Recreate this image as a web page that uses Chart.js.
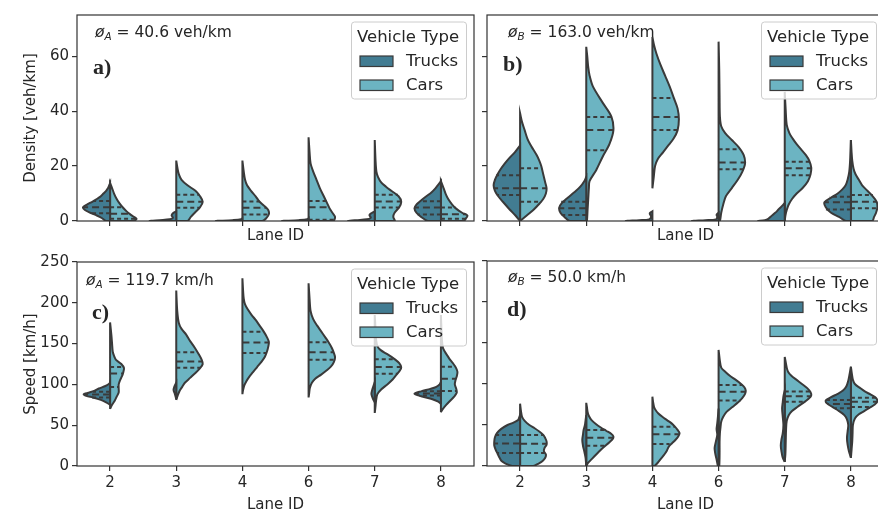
<!DOCTYPE html>
<html>
<head>
<meta charset="utf-8">
<script src="https://cdn.jsdelivr.net/npm/chart.js@4.4.1/dist/chart.umd.min.js"></script>
<style>
  html, body { margin: 0; padding: 0; background: #fff; }
  body { width: 878px; height: 514px; overflow: hidden; position: relative; }
  .panel { position: absolute; }
</style>
</head>
<body>
<div class="panel" style="left:0;top:0;width:480px;height:250px"><canvas id="panelA"></canvas></div>
<div class="panel" style="left:480px;top:0;width:420px;height:250px"><canvas id="panelB"></canvas></div>
<div class="panel" style="left:0;top:250px;width:480px;height:264px"><canvas id="panelC"></canvas></div>
<div class="panel" style="left:480px;top:250px;width:420px;height:264px"><canvas id="panelD"></canvas></div>
<script>
// categories and tick values
const lanes = ['2', '3', '4', '6', '7', '8'];
const densityTicks = [0, 20, 40, 60];
const speedTicks = [0, 50, 100, 150, 200, 250];
const vehicleTypes = ['Trucks', 'Cars'];
const legendTitle = 'Vehicle Type';
const panelTags = ['a)', 'b)', 'c)', 'd)'];
const noteSubs = ['A', 'B', 'A', 'B'];
const noteValues = ['40.6 veh/km', '163.0 veh/km', '119.7 km/h', '50.0 km/h'];

// violin outlines: [value, half width in lane units], bottom to top
const densityA_trucks = [
  [[0,0.06],[1,0.12],[2,0.2],[3,0.3],[4,0.38],[5,0.41],[6,0.35],[7,0.27],[8,0.2],[9,0.14],[10,0.1],[11,0.06],[12,0.03],[13.8,0]],
  [[0,0.4],[0.3,0.25],[0.6,0.1],[1.2,0.05],[2,0.07],[2.8,0.05],[3.5,0]],
  [[0,0.4],[0.3,0.15],[0.6,0.02],[1,0]],
  [[0,0.4],[0.3,0.15],[0.6,0.02],[1,0]],
  [[0,0.4],[0.3,0.28],[0.6,0.12],[1.2,0.06],[2.2,0.08],[3,0.04],[3.5,0]],
  [[0,0.2],[1.5,0.3],[3,0.37],[4.6,0.4],[6,0.37],[7.5,0.3],[9,0.22],[10.5,0.14],[12,0.08],[13.5,0.03],[14.5,0]]
];
const densityA_cars = [
  [[0,0.35],[0.8,0.4],[1.5,0.36],[2.5,0.3],[3.5,0.25],[5,0.19],[6.5,0.14],[8,0.1],[10,0.06],[12,0.03],[13.8,0]],
  [[0,0.17],[1.5,0.22],[3,0.28],[5,0.36],[7,0.4],[9,0.36],[11,0.29],[13,0.17],[15,0.08],[17,0.04],[19,0.02],[22,0]],
  [[0,0.3],[1,0.36],[2.5,0.4],[4,0.39],[5.5,0.33],[7,0.26],[9,0.2],[11,0.13],[13,0.07],[15,0.04],[18,0.02],[22,0]],
  [[0,0.37],[1.5,0.4],[3,0.36],[4.5,0.32],[6.5,0.28],[9,0.23],[12,0.17],[15,0.12],[18,0.07],[21,0.03],[25,0.015],[30.5,0]],
  [[0,0.3],[1.5,0.28],[3,0.3],[5,0.37],[7,0.4],[9,0.36],[11,0.25],[12.5,0.17],[14,0.1],[16,0.05],[18,0.025],[22,0.012],[29.5,0]],
  [[0,0.34],[1,0.38],[2,0.4],[3,0.32],[4.5,0.23],[6,0.17],[8,0.11],[10,0.07],[12,0.04],[14.5,0]]
];
const densityB_trucks = [
  [[0,0],[2,0.07],[4,0.15],[7,0.26],[9,0.33],[11,0.38],[13,0.4],[15,0.38],[17,0.34],[19,0.29],[21,0.23],[23,0.16],[25,0.08],[27.5,0]],
  [[0,0.25],[1.5,0.33],[3,0.39],[4.8,0.41],[6.5,0.37],[8.5,0.28],[10.5,0.18],[12.5,0.09],[14.5,0.03],[16,0]],
  [[0,0.4],[0.3,0.2],[0.6,0.05],[1.5,0.02],[2.8,0.04],[3.5,0]],
  [[0,0.4],[0.3,0.2],[0.6,0.04],[1.5,0.02],[2.3,0.03],[3,0]],
  [[0,0.4],[0.3,0.3],[0.8,0.25],[1.6,0.21],[2.5,0.17],[3.5,0.12],[4.6,0.08],[5.5,0.04],[6.6,0]],
  [[0,0.08],[1.5,0.18],[3,0.3],[5,0.38],[6.8,0.4],[8.5,0.3],[10,0.2],[11.5,0.13],[13,0.08],[15,0.05],[18,0.025],[22,0.012],[29.5,0]]
];
const densityB_cars = [
  [[0,0],[2,0.1],[4,0.2],[6,0.28],[8,0.35],[10,0.39],[12,0.4],[14,0.38],[16,0.36],[18,0.34],[20,0.32],[22,0.29],[24,0.25],[26,0.2],[28,0.15],[30,0.11],[33,0.07],[36,0.03],[39.2,0]],
  [[0,0.01],[4,0.02],[8,0.03],[12,0.04],[14.5,0.05],[18.5,0.15],[23.5,0.25],[28,0.35],[33,0.41],[38,0.38],[43,0.25],[49,0.1],[53,0.05],[56,0.03],[60,0.015],[63.4,0]],
  [[11.9,0],[16,0.02],[20,0.04],[22.5,0.08],[25,0.16],[27.5,0.24],[30,0.32],[33,0.38],[37,0.4],[41,0.38],[45,0.32],[49,0.26],[53,0.19],[57,0.12],[61,0.06],[64,0.025],[67,0]],
  [[0,0.02],[3,0.04],[6,0.07],[9,0.11],[12,0.2],[15,0.29],[18,0.36],[21,0.4],[24,0.38],[27,0.3],[29.5,0.2],[32,0.1],[34.5,0.04],[38,0.02],[45,0.015],[55,0.01],[65.3,0]],
  [[0,0],[2,0.01],[4,0.03],[6,0.06],[8,0.11],[10,0.18],[12,0.27],[14.5,0.35],[17,0.39],[19.5,0.4],[22,0.37],[24,0.32],[26,0.25],[28,0.18],[30,0.12],[32,0.07],[35,0.03],[40,0.015],[47,0]],
  [[0,0.32],[1.5,0.35],[3,0.38],[5,0.4],[7,0.39],[9,0.33],[11,0.25],[13,0.17],[15,0.12],[17,0.07],[19,0.04],[22,0.02],[25,0.01],[29.5,0]]
];
const speedA_trucks = [
  [[75,0],[78,0.06],[81,0.14],[84,0.26],[86,0.36],[87.8,0.4],[89.5,0.34],[92,0.24],[95,0.17],[98,0.07],[101,0.01],[103,0]],
  [[82,0],[88,0.02],[93,0.04],[97,0.03],[102,0]],
  [],
  [],
  [[78,0],[83,0.03],[88,0.05],[93,0.04],[98,0.02],[103,0]],
  [[76,0],[79,0.04],[82.5,0.15],[85.5,0.3],[88.6,0.4],[91.5,0.3],[94.5,0.16],[97,0.07],[100,0.02],[103,0]]
];
const speedA_cars = [
  [[70,0],[75,0.03],[80,0.07],[85,0.1],[90,0.13],[95,0.13],[100,0.13],[105,0.15],[110,0.18],[115,0.2],[120,0.21],[125,0.17],[130,0.09],[135,0.06],[140,0.04],[150,0.03],[160,0.02],[176,0]],
  [[81,0],[86,0.02],[92,0.05],[97,0.09],[102,0.13],[108,0.21],[114,0.29],[119,0.35],[125,0.4],[131,0.38],[137,0.34],[145,0.28],[153,0.21],[161,0.15],[168,0.08],[175,0.04],[190,0.015],[215,0]],
  [[88,0],[93,0.01],[99,0.03],[104,0.06],[109,0.1],[115,0.16],[121,0.22],[128,0.29],[134,0.34],[140,0.37],[146,0.39],[152,0.4],[158,0.37],[165,0.32],[172,0.26],[179,0.2],[185,0.14],[192,0.08],[198,0.04],[205,0.02],[215,0.01],[230,0]],
  [[84,0],[90,0.01],[96,0.02],[102,0.05],[107,0.1],[112,0.19],[117,0.27],[122,0.34],[127,0.38],[133,0.4],[139,0.38],[145,0.35],[152,0.3],[158,0.25],[165,0.19],[172,0.13],[180,0.07],[190,0.03],[205,0.015],[224,0]],
  [[65,0],[72,0.01],[80,0.02],[88,0.04],[94,0.1],[100,0.19],[106,0.27],[112,0.33],[117,0.38],[121,0.4],[126,0.37],[131,0.3],[137,0.19],[142,0.09],[147,0.04],[155,0.02],[170,0.01],[185,0]],
  [[66,0],[70,0.03],[75,0.08],[80,0.14],[85,0.2],[90,0.24],[95,0.23],[100,0.21],[105,0.22],[110,0.24],[115,0.25],[120,0.23],[125,0.19],[130,0.14],[135,0.1],[140,0.06],[145,0.03],[155,0.015],[185,0]]
];
const speedB_trucks = [
  [[0,0.12],[3,0.22],[6,0.28],[10,0.31],[15,0.34],[20,0.37],[25,0.39],[30,0.39],[35,0.38],[40,0.35],[45,0.29],[50,0.19],[53,0.1],[56,0.03],[60,0.01],[62,0]],
  [[0,0],[10,0.01],[18,0.03],[25,0.05],[32,0.06],[38,0.05],[44,0.04],[50,0.02],[56,0.01],[62,0]],
  [],
  [[0,0.01],[8,0.03],[15,0.05],[22,0.06],[30,0.04],[38,0.02],[45,0.03],[52,0.02],[60,0.01],[70,0]],
  [[5,0],[10,0.03],[18,0.05],[25,0.06],[32,0.05],[40,0.03],[50,0.02],[60,0.03],[70,0.04],[78,0.03],[85,0.02],[92,0]],
  [[10,0],[18,0.03],[26,0.05],[34,0.06],[42,0.05],[50,0.04],[57,0.06],[62,0.1],[67,0.18],[72,0.28],[77,0.37],[80,0.38],[84,0.3],[88,0.2],[92,0.12],[97,0.07],[104,0.04],[112,0.02],[121,0]]
];
const speedB_cars = [
  [[0,0.2],[3,0.28],[6,0.34],[10,0.38],[14,0.39],[18,0.36],[22,0.37],[26,0.4],[30,0.4],[34,0.38],[38,0.35],[42,0.29],[46,0.22],[50,0.14],[55,0.07],[60,0.03],[66,0.015],[76,0]],
  [[0,0],[4,0.03],[9,0.09],[14,0.15],[19,0.21],[24,0.28],[29,0.35],[33,0.4],[36,0.41],[39,0.38],[43,0.3],[47,0.22],[51,0.15],[56,0.08],[61,0.04],[66,0.02],[72,0.01],[77,0]],
  [[0,0.03],[4,0.08],[9,0.13],[14,0.18],[19,0.22],[24,0.25],[28,0.3],[32,0.35],[36,0.39],[40,0.41],[44,0.38],[48,0.34],[52,0.29],[56,0.22],[60,0.15],[64,0.09],[68,0.05],[72,0.025],[78,0.01],[84.5,0]],
  [[0,0.01],[15,0.015],[30,0.015],[40,0.02],[48,0.03],[54,0.04],[60,0.07],[66,0.12],[72,0.21],[78,0.3],[83,0.36],[88,0.4],[92,0.41],[96,0.39],[100,0.34],[105,0.26],[110,0.17],[115,0.1],[120,0.04],[128,0.02],[141.5,0]],
  [[5,0],[15,0.01],[30,0.015],[45,0.02],[55,0.03],[62,0.06],[67,0.11],[72,0.19],[77,0.28],[82,0.36],[86,0.4],[90,0.39],[95,0.34],[100,0.26],[105,0.18],[110,0.1],[115,0.05],[120,0.03],[133,0]],
  [[10,0],[20,0.01],[30,0.02],[40,0.025],[50,0.03],[58,0.06],[63,0.12],[67,0.2],[71,0.28],[75,0.36],[79,0.4],[83,0.38],[87,0.3],[91,0.21],[95,0.14],[100,0.06],[105,0.03],[112,0.015],[121,0]]
];

// quartile lines: [value, half width] for q1, median, q3
const densityA_truckQ = [[[2.8,0.29],[5,0.41],[7.3,0.25]], [], [], [], [], [[2.4,0.35],[4.9,0.4],[7.2,0.31]]];
const densityA_carQ = [[[0.8,0.4],[2.6,0.3],[5,0.19]], [[4.8,0.36],[7,0.4],[9.6,0.35]], [[2.4,0.4],[4.8,0.36],[7.1,0.26]],
  [[0.5,0.38],[5,0.3],[7.3,0.27]], [[4.9,0.37],[7.1,0.4],[9.6,0.35]], [[0.8,0.38],[2.5,0.37],[4.9,0.22]]];
const densityB_truckQ = [[[9.5,0.35],[11.9,0.39],[16.7,0.36]], [[2.2,0.37],[4.6,0.41],[7.0,0.38]], [], [], [], [[4.2,0.39],[6.8,0.4],[8.8,0.32]]];
const densityB_carQ = [[[7.0,0.32],[11.9,0.4],[19.2,0.33]], [[25.8,0.3],[33.1,0.41],[37.9,0.38]], [[33.1,0.38],[37.9,0.4],[44.8,0.32]],
  [[18.8,0.37],[21.3,0.4],[26.1,0.32]], [[16.7,0.38],[19.2,0.4],[21.6,0.38]], [[4.6,0.4],[7.0,0.39],[9.5,0.33]]];
const speedA_truckQ = [[[84,0.27],[87.5,0.39],[91,0.26]], [], [], [], [], [[86.5,0.33],[89,0.39],[91.5,0.3]]];
const speedA_carQ = [[[96.7,0.13],[113.5,0.19],[121.3,0.21]], [[120.5,0.36],[128.2,0.39],[139.4,0.32]], [[138.5,0.37],[151.2,0.4],[164.6,0.32]],
  [[130.1,0.39],[139.4,0.38],[151.6,0.3]], [[113,0.34],[121.2,0.4],[130.7,0.3]], [[91.9,0.24],[107,0.23],[121.5,0.22]]];
const speedB_truckQ = [[[15.8,0.34],[27.5,0.39],[37.8,0.37]], [], [], [], [], [[70.4,0.24],[75.5,0.35],[80.5,0.37]]];
const speedB_carQ = [[[15.8,0.37],[27.2,0.4],[37.8,0.35]], [[24.6,0.29],[34.6,0.41],[43.9,0.3]], [[26.8,0.26],[38.8,0.4],[48,0.34]],
  [[80,0.33],[90.6,0.41],[98.8,0.36]], [[78.4,0.32],[85.2,0.4],[91,0.38]], [[72,0.3],[78.4,0.4],[83.3,0.38]]];

// colours
const truckColor = '#427c92';
const carColor = '#6cb4c2';
const edgeColor = '#3a3a3a';
const textColor = '#262626';

Chart.defaults.font.family = '"DejaVu Sans", sans-serif';
Chart.defaults.color = textColor;

// one half of a split violin, closed along the lane centre
function halfViolin(lane, profile, dir, color) {
  const pts = [{ x: lane, y: profile[0][0] }];
  profile.forEach(([v, w]) => pts.push({ x: lane + dir * w, y: v }));
  pts.push({ x: lane, y: profile[profile.length - 1][0] });
  pts.push({ x: lane, y: profile[0][0] });
  return {
    data: pts, fill: 'shape', backgroundColor: color, borderColor: edgeColor,
    borderWidth: 2, pointRadius: 0, tension: 0.3, order: 2
  };
}

// quartile (k = 0, 2) and median (k = 1) dashes
function quartileLine(lane, q, dir, k) {
  return {
    data: [{ x: lane, y: q[0] }, { x: lane + dir * q[1], y: q[0] }],
    fill: false, borderColor: edgeColor, borderWidth: 2, pointRadius: 0,
    borderDash: k === 1 ? [7, 4] : [4, 3], order: 1
  };
}

// frame, note, panel tag and legend
const panelDecor = {
  id: 'panelDecor',
  afterDatasetsDraw(chart, args, opts) {
    const { ctx, chartArea: a } = chart;
    ctx.save();
    ctx.strokeStyle = '#333';
    ctx.lineWidth = 1.2;
    ctx.strokeRect(a.left, a.top, a.right - a.left, a.bottom - a.top);

    // note: ø_X = value
    ctx.fillStyle = textColor;
    ctx.textBaseline = 'middle';
    let nx = a.left + opts.note[0];
    const ny = a.top + opts.note[1];
    ctx.font = 'italic 15.5px "DejaVu Sans"';
    ctx.fillText('ø', nx, ny);
    nx += ctx.measureText('ø').width;
    ctx.font = 'italic 10.5px "DejaVu Sans"';
    ctx.fillText(noteSubs[opts.index], nx, ny + 4);
    nx += ctx.measureText(noteSubs[opts.index]).width;
    ctx.font = '15.5px "DejaVu Sans"';
    ctx.fillText(' = ' + noteValues[opts.index], nx, ny);

    // panel tag
    ctx.font = 'bold 22px "Liberation Serif"';
    ctx.fillText(panelTags[opts.index], a.left + opts.tag[0], a.top + opts.tag[1]);

    // legend
    const bx = a.right - 122.5, by = a.top + 7, bw = 115, bh = 77;
    ctx.beginPath();
    ctx.roundRect(bx, by, bw, bh, 3);
    ctx.fillStyle = 'rgba(255,255,255,0.8)';
    ctx.fill();
    ctx.strokeStyle = '#cccccc';
    ctx.lineWidth = 1;
    ctx.stroke();
    ctx.fillStyle = textColor;
    ctx.font = '16.5px "DejaVu Sans"';
    ctx.fillText(legendTitle, bx + 5.5, by + 16);
    [truckColor, carColor].forEach((c, i) => {
      const py = by + 34 + i * 24;
      ctx.fillStyle = c;
      ctx.fillRect(bx + 8.5, py, 33, 10.5);
      ctx.strokeStyle = edgeColor;
      ctx.lineWidth = 1.2;
      ctx.strokeRect(bx + 8.5, py, 33, 10.5);
      ctx.fillStyle = textColor;
      ctx.fillText(vehicleTypes[i], bx + 54.5, py + 5.5);
    });
    ctx.restore();
  }
};

const panels = [
  { id: 'panelA', index: 0, trucks: densityA_trucks, cars: densityA_cars, truckQ: densityA_truckQ, carQ: densityA_carQ,
    yTicks: densityTicks, yMax: 75, yTitle: 'Density [veh/km]', showXLabels: false,
    padding: { left: 0, top: 15, right: 6, bottom: 0 }, yWidth: 77, xHeight: 29, xTitlePad: 5, note: [18, 18], tag: [16, 53] },
  { id: 'panelB', index: 1, trucks: densityB_trucks, cars: densityB_cars, truckQ: densityB_truckQ, carQ: densityB_carQ,
    yTicks: densityTicks, yMax: 75, yTitle: '', showXLabels: false,
    padding: { left: 0, top: 15, right: 16, bottom: 0 }, yWidth: 7, xHeight: 29, xTitlePad: 5, note: [21, 18], tag: [16, 50] },
  { id: 'panelC', index: 2, trucks: speedA_trucks, cars: speedA_cars, truckQ: speedA_truckQ, carQ: speedA_carQ,
    yTicks: speedTicks, yMax: 250, yTitle: 'Speed [km/h]', showXLabels: true,
    padding: { left: 0, top: 11, right: 6, bottom: 0 }, yWidth: 77, xHeight: 48, xTitlePad: 0, note: [9, 19], tag: [15, 51] },
  { id: 'panelD', index: 3, trucks: speedB_trucks, cars: speedB_cars, truckQ: speedB_truckQ, carQ: speedB_carQ,
    yTicks: speedTicks, yMax: 250, yTitle: '', showXLabels: true,
    padding: { left: 0, top: 11, right: 16, bottom: 0 }, yWidth: 7, xHeight: 48, xTitlePad: 0, note: [21, 17], tag: [20, 49] }
];

function drawPanel(p) {
  const datasets = [];
  lanes.forEach((lane, i) => {
    if (p.trucks[i].length) datasets.push(halfViolin(i, p.trucks[i], -1, truckColor));
    if (p.cars[i].length) datasets.push(halfViolin(i, p.cars[i], 1, carColor));
    p.truckQ[i].forEach((q, k) => datasets.push(quartileLine(i, q, -1, k)));
    p.carQ[i].forEach((q, k) => datasets.push(quartileLine(i, q, 1, k)));
  });

  new Chart(document.getElementById(p.id), {
    type: 'line',
    data: { datasets },
    plugins: [panelDecor],
    options: {
      responsive: true,
      maintainAspectRatio: false,
      animation: false,
      events: [],
      layout: { padding: p.padding },
      plugins: {
        legend: { display: false },
        tooltip: { enabled: false },
        panelDecor: { index: p.index, note: p.note, tag: p.tag }
      },
      scales: {
        x: {
          type: 'linear', min: -0.5, max: 5.5,
          afterBuildTicks: s => { s.ticks = lanes.map((_, i) => ({ value: i })); },
          afterFit: s => { s.height = p.xHeight; },
          ticks: { display: p.showXLabels, callback: v => lanes[v], font: { size: 15 }, padding: 3, maxRotation: 0, autoSkip: false },
          grid: { drawOnChartArea: false, tickLength: 5, color: '#333', lineWidth: 1.2 },
          border: { display: false },
          title: { display: true, text: 'Lane ID', font: { size: 15 }, padding: { top: 0, bottom: p.xTitlePad } }
        },
        y: {
          min: 0, max: p.yMax,
          afterBuildTicks: s => { s.ticks = p.yTicks.map(v => ({ value: v })); },
          afterFit: s => { s.width = p.yWidth; },
          ticks: { display: p.yTitle !== '', font: { size: 15 }, padding: 3 },
          grid: { drawOnChartArea: false, tickLength: 5, color: '#333', lineWidth: 1.2 },
          border: { display: false },
          title: { display: p.yTitle !== '', text: p.yTitle, font: { size: 15 }, padding: { top: 22, bottom: 0 } }
        }
      }
    }
  });
}

panels.forEach(drawPanel);
</script>
</body>
</html>
